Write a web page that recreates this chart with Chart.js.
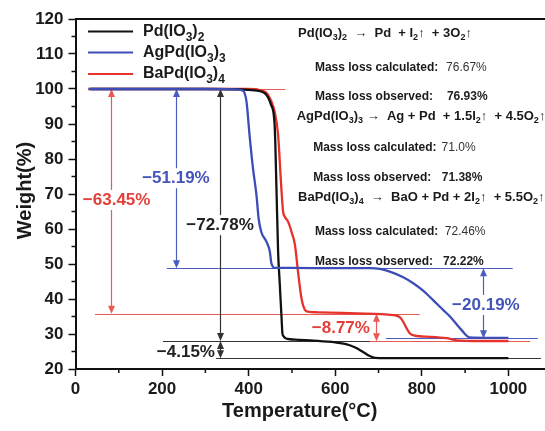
<!DOCTYPE html>
<html><head><meta charset="utf-8">
<script src="https://cdn.jsdelivr.net/npm/chart.js@4/dist/chart.umd.min.js"></script>
<style>html,body{margin:0;padding:0;background:#fff;overflow:hidden;width:545px;height:431px}
#wrap{width:620px;height:431px}</style></head>
<body><div id="wrap"><canvas id="c" width="620" height="431"></canvas></div>
<script>
// ---- data ----
const pdT = [35, 100, 200, 300, 380, 414, 437, 452, 460, 464, 468, 472, 476, 478, 481, 484, 490, 507, 550, 600, 625, 645, 665, 680, 692, 750, 850, 1000];
const pdW = [100, 100, 100, 100, 99.9, 99.6, 98.8, 95.4, 89.7, 72.6, 53.5, 44, 34.5, 30.2, 29.3, 28.9, 28.6, 28.4, 28.1, 27.6, 27.1, 26.2, 24.8, 23.7, 23.2, 23.1, 23.1, 23.1];
const agT = [30, 100, 200, 300, 370, 387, 395, 402, 410, 418, 423, 429, 441, 449, 452, 456, 460, 500, 600, 680, 703, 726, 757, 780, 803, 826, 849, 865, 892, 911, 950, 1000];
const agW = [100, 100, 100, 100, 99.9, 99.5, 96.4, 86.9, 77.3, 69.7, 63, 59.2, 56.4, 53.5, 50.5, 49.2, 48.9, 48.9, 48.8, 48.8, 48.6, 47.8, 46.2, 44.5, 42.4, 39.7, 36.9, 35.0, 31.1, 29.0, 28.9, 28.9];
const baT = [30, 100, 200, 300, 400, 425, 445, 460, 468, 475, 479.5, 483.5, 491, 499, 507, 514, 522, 530, 537, 560, 650, 734, 749, 757, 765, 772, 784, 819, 857, 880, 934, 1000];
const baW = [100, 100, 100, 100, 100, 99.7, 98.3, 93.5, 86.9, 72.6, 65, 63.5, 62.1, 59.2, 55.4, 47.8, 40.2, 36.9, 36.4, 36.2, 35.9, 35.4, 34.8, 33.5, 31.6, 30.2, 29.5, 29.2, 28.8, 28.2, 28.0, 28.0];
const seriesNames = ['Pd(IO_3)_2', 'AgPd(IO_3)_3', 'BaPd(IO_3)_4'];
const xLabelTicks = [0, 200, 400, 600, 800, 1000];
const yLabelTicks = [20, 30, 40, 50, 60, 70, 80, 90, 100, 110, 120];

// step levels (weight %) of the guide lines
const redLevels = [100, 35.8, 27.9];
const blueLevels = [48.8, 28.8];
const blackLevels = [28.0, 23.1];
const dropTexts = ['\u221263.45%', '\u221251.19%', '\u221272.78%', '\u22124.15%', '\u22128.77%', '\u221220.19%'];
const equations = ['Pd(IO_3)_2  \u2192  Pd  + I_2\u2191  + 3O_2\u2191',
                   'AgPd(IO_3)_3 \u2192  Ag + Pd  + 1.5I_2\u2191  + 4.5O_2\u2191',
                   'BaPd(IO_3)_4  \u2192  BaO + Pd + 2I_2\u2191  + 5.5O_2\u2191'];
const calcLoss = ['76.67%', '71.0%', '72.46%'];
const obsLoss = ['76.93%', '71.38%', '72.22%'];

// ---- styles ----
const FONT = "'Liberation Sans', Arial, sans-serif";
const BLK = '#111111', BLUE = '#3c4db8', RED = '#e5322d';
const BLK_L = '#333333', BLUE_L = '#4b5cc0', RED_L = '#e95a55';
const LBL_BLUE = '#4454b8', LBL_RED = '#e2413b', LBL_BLK = '#222222';

function pts(t, w) { return t.map((v, i) => ({x: v, y: w[i]})); }

function parseRich(s) {
  const parts = [];
  for (let i = 0; i < s.length; i++) {
    const ch = s[i];
    if (ch === '_') { parts.push({t: s[i + 1], sub: true}); i++; }
    else {
      const last = parts[parts.length - 1];
      if (last && !last.sub) last.t += ch; else parts.push({t: ch, sub: false});
    }
  }
  return parts;
}
function drawRich(ctx, s, x, y, size, weight, color, align) {
  const parts = parseRich(s);
  const sub = Math.round(size * 0.72);
  const fM = `${weight} ${size}px ${FONT}`, fS = `${weight} ${sub}px ${FONT}`;
  let w = 0;
  parts.forEach(p => { ctx.font = p.sub ? fS : fM; p.w = ctx.measureText(p.t).width; w += p.w; });
  let cx = align === 'center' ? x - w / 2 : x;
  ctx.fillStyle = color; ctx.textBaseline = 'middle'; ctx.textAlign = 'left';
  parts.forEach(p => { ctx.font = p.sub ? fS : fM; ctx.fillText(p.t, cx, p.sub ? y + size * 0.36 : y); cx += p.w; });
  return x + w;
}

const refLines = [
  {c: RED_L, v: redLevels[0], t1: 30, t2: 485},
  {c: RED_L, v: redLevels[1], t1: 45, t2: 795},
  {c: RED_L, v: redLevels[2], t1: 680, t2: 1050},
  {c: BLUE_L, v: blueLevels[0], t1: 211, t2: 1010},
  {c: BLUE_L, v: blueLevels[1], t1: 717, t2: 1068},
  {c: BLK_L, v: blackLevels[0], t1: 202, t2: 680},
  {c: BLK_L, v: blackLevels[1], t1: 202, t2: 1075}
];
const arrows = [
  {c: RED_L, t: 83, v1: 100, v2: redLevels[1]},
  {c: BLUE_L, t: 231, v1: 100, v2: blueLevels[0]},
  {c: BLK_L, t: 333, v1: 100, v2: blackLevels[0]},
  {c: BLK_L, t: 333, v1: blackLevels[0], v2: blackLevels[1]},
  {c: RED_L, t: 695, v1: redLevels[1], v2: redLevels[2]},
  {c: BLUE_L, t: 942, v1: blueLevels[0], v2: blueLevels[1]}
];
const dropLabels = [
  {c: LBL_RED, t: 95, v: 68.3},
  {c: LBL_BLUE, t: 232, v: 74.5},
  {c: LBL_BLK, t: 334, v: 61.1},
  {c: LBL_BLK, t: 255, v: 24.7},
  {c: LBL_RED, t: 613, v: 31.6},
  {c: LBL_BLUE, t: 948, v: 38.3}
];
const eqPos = [{t: 514, v: 116.0}, {t: 511, v: 92.2}, {t: 514, v: 69.1}];
const calcPos = [{t: 553, v: 106.0, vt: 856}, {t: 549, v: 83.1, vt: 833}, {t: 553, v: 59.1, vt: 853}];
const obsPos = [{t: 553, v: 97.7, vt: 858}, {t: 549, v: 74.6, vt: 846}, {t: 553, v: 50.6, vt: 849}];
const legendPos = {t1: 29, t2: 133, tt: 156, v: [116.4, 110.4, 104.3]};

function arrowHead(ctx, x, yTip, dir) { // dir -1 up, +1 down
  ctx.beginPath();
  ctx.moveTo(x, yTip);
  ctx.lineTo(x - 3.5, yTip - dir * 8);
  ctx.lineTo(x + 3.5, yTip - dir * 8);
  ctx.closePath(); ctx.fill();
}

const deco = {
  id: 'deco',
  beforeDatasetsDraw(chart) {
    const {ctx, scales: {x, y}} = chart;
    ctx.save();
    ctx.lineWidth = 1.2;
    refLines.forEach(l => {
      ctx.strokeStyle = l.c; ctx.beginPath();
      const py = Math.round(y.getPixelForValue(l.v)) + 0.5;
      ctx.moveTo(x.getPixelForValue(l.t1), py); ctx.lineTo(x.getPixelForValue(l.t2), py); ctx.stroke();
    });
    arrows.forEach(a => {
      const px = Math.round(x.getPixelForValue(a.t)) + 0.5;
      const p1 = y.getPixelForValue(a.v1), p2 = y.getPixelForValue(a.v2);
      ctx.strokeStyle = a.c; ctx.fillStyle = a.c; ctx.lineWidth = 1.2;
      ctx.beginPath(); ctx.moveTo(px, p1 + 4); ctx.lineTo(px, p2 - 4); ctx.stroke();
      arrowHead(ctx, px, p1, -1); arrowHead(ctx, px, p2, 1);
    });
    ctx.restore();
  },
  afterDatasetsDraw(chart) {
    const {ctx, chartArea: ca, scales: {x, y}} = chart;
    ctx.save();
    // top frame
    ctx.strokeStyle = '#111'; ctx.lineWidth = 2;
    ctx.beginPath(); ctx.moveTo(ca.left, ca.top); ctx.lineTo(ca.right, ca.top); ctx.lineTo(ca.right, ca.bottom); ctx.stroke();
    // minor ticks
    ctx.lineWidth = 1.5;
    for (let v = 25; v < 120; v += 10) { const py = y.getPixelForValue(v); ctx.beginPath(); ctx.moveTo(ca.left - 4, py); ctx.lineTo(ca.left, py); ctx.stroke(); }
    for (let t = 100; t <= 1100; t += 200) { const px = x.getPixelForValue(t); ctx.beginPath(); ctx.moveTo(px, ca.bottom); ctx.lineTo(px, ca.bottom + 4); ctx.stroke(); }
    // drop labels
    dropLabels.forEach((l, i) => {
      ctx.font = `bold 17px ${FONT}`;
      const w = ctx.measureText(dropTexts[i]).width;
      const px = x.getPixelForValue(l.t), py = y.getPixelForValue(l.v);
      ctx.fillStyle = '#fff'; ctx.fillRect(px - w / 2 - 1, py - 10, w + 2, 20);
      ctx.fillStyle = l.c; ctx.textAlign = 'center'; ctx.textBaseline = 'middle';
      ctx.fillText(dropTexts[i], px, py);
    });
    // legend
    chart.data.datasets.forEach((d, i) => {
      const py = y.getPixelForValue(legendPos.v[i]);
      ctx.strokeStyle = d.borderColor; ctx.lineWidth = 2;
      ctx.beginPath(); ctx.moveTo(x.getPixelForValue(legendPos.t1), py); ctx.lineTo(x.getPixelForValue(legendPos.t2), py); ctx.stroke();
      drawRich(ctx, seriesNames[i], x.getPixelForValue(legendPos.tt), py, 16, 'bold', '#1a1a1a', 'left');
    });
    // equations and mass losses
    equations.forEach((e, i) => {
      drawRich(ctx, e, x.getPixelForValue(eqPos[i].t), y.getPixelForValue(eqPos[i].v), 13, 'bold', '#1a1a1a', 'left');
      const e1 = drawRich(ctx, 'Mass loss calculated:', x.getPixelForValue(calcPos[i].t), y.getPixelForValue(calcPos[i].v), 12, 'bold', '#1a1a1a', 'left');
      drawRich(ctx, calcLoss[i], Math.max(e1 + 5, x.getPixelForValue(calcPos[i].vt)), y.getPixelForValue(calcPos[i].v), 12, 'normal', '#333', 'left');
      const e2 = drawRich(ctx, 'Mass loss observed:', x.getPixelForValue(obsPos[i].t), y.getPixelForValue(obsPos[i].v), 12, 'bold', '#1a1a1a', 'left');
      drawRich(ctx, obsLoss[i], Math.max(e2 + 5, x.getPixelForValue(obsPos[i].vt)), y.getPixelForValue(obsPos[i].v), 12, 'bold', '#222', 'left');
    });
    // axis titles
    ctx.fillStyle = '#1a1a1a'; ctx.font = `bold 20px ${FONT}`; ctx.textAlign = 'center'; ctx.textBaseline = 'middle';
    ctx.fillText('Temperature(\u00B0C)', x.getPixelForValue(518), 411);
    ctx.translate(25, y.getPixelForValue(71));
    ctx.rotate(-Math.PI / 2);
    ctx.fillText('Weight(%)', 0, 0);
    ctx.restore();
  }
};

new Chart(document.getElementById('c'), {
  type: 'line',
  data: {
    datasets: [
      {label: 'Pd(IO3)2', data: pts(pdT, pdW), borderColor: BLK, order: 1},
      {label: 'AgPd(IO3)3', data: pts(agT, agW), borderColor: BLUE, order: 0},
      {label: 'BaPd(IO3)4', data: pts(baT, baW), borderColor: RED, order: 2}
    ]
  },
  options: {
    responsive: false, animation: false, devicePixelRatio: 1,
    elements: {point: {radius: 0}, line: {borderWidth: 2.3, cubicInterpolationMode: 'monotone'}},
    layout: {padding: {top: 19, right: 25, left: 0, bottom: 0}},
    plugins: {legend: {display: false}, tooltip: {enabled: false}},
    scales: {
      x: {
        type: 'linear', min: 0, max: 1200,
        afterFit(s) { s.height = 62; },
        border: {display: true, color: '#111', width: 2},
        grid: {drawOnChartArea: false, drawTicks: true, tickLength: 7, tickWidth: 1.5,
               tickColor: c => (c.tick && xLabelTicks.includes(c.tick.value)) ? '#111' : 'rgba(0,0,0,0)'},
        ticks: {stepSize: 100, autoSkip: false, maxRotation: 0, padding: 3, color: '#1a1a1a',
                font: {family: FONT, size: 17, weight: 'bold'},
                callback: v => xLabelTicks.includes(v) ? String(v) : ''}
      },
      y: {
        type: 'linear', min: 20, max: 120,
        afterFit(s) { s.width = 75.5; },
        border: {display: true, color: '#111', width: 2},
        grid: {drawOnChartArea: false, drawTicks: true, tickLength: 7, tickWidth: 1.5,
               tickColor: c => (c.tick && yLabelTicks.includes(c.tick.value)) ? '#111' : 'rgba(0,0,0,0)'},
        ticks: {stepSize: 10, autoSkip: false, padding: 5, color: '#1a1a1a',
                font: {family: FONT, size: 17, weight: 'bold'},
                callback: v => yLabelTicks.includes(v) ? String(v) : ''}
      }
    }
  },
  plugins: [deco]
});
</script>
</body></html>
